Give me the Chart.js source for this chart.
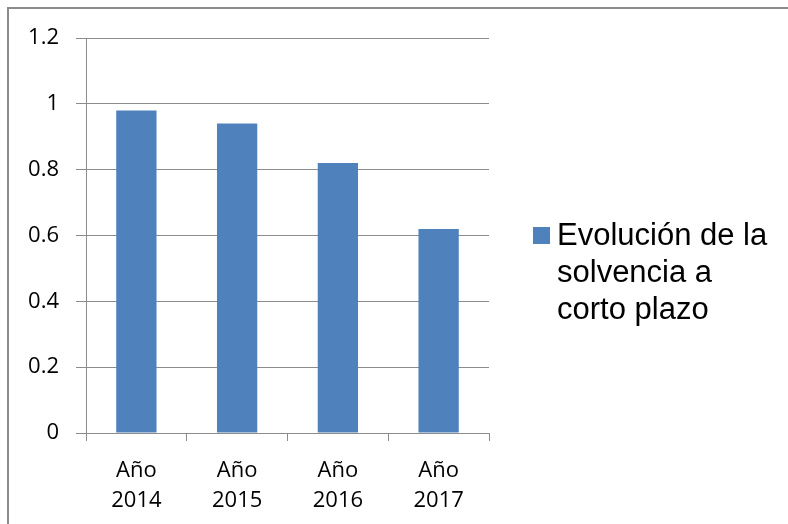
<!DOCTYPE html>
<html>
<head>
<meta charset="utf-8">
<script src="https://cdn.jsdelivr.net/npm/chart.js@4"></script>
<style>
    body { margin: 0; background: #fff; overflow: hidden; }
    #wrap { position: relative; width: 788px; height: 524px; }
    #frame { position: absolute; left: 7px; top: 7px; width: 900px; height: 700px; border: 2px solid #8c8c8c; }
    canvas { position: absolute; left: 0; top: 0; }
</style>
</head>
<body>
<div id="wrap">
    <div id="frame"></div>
    <canvas id="solvenciaChart" width="788" height="524"></canvas>
</div>
<script>
// Chart data
const years = [['Año', '2014'], ['Año', '2015'], ['Año', '2016'], ['Año', '2017']];
const solvencia = [0.98, 0.94, 0.82, 0.62];
const seriesLabel = 'Evolución de la solvencia a corto plazo';
const barColor = '#4F81BD';

// Draws the legend on the right, wrapping the label like the original
const sideLegend = {
    id: 'sideLegend',
    afterDraw(chart) {
        const ctx = chart.ctx;
        const ds = chart.data.datasets[0];
        ctx.save();
        ctx.font = '31px "Liberation Sans", Arial, sans-serif';
        ctx.fillStyle = ds.backgroundColor;
        ctx.fillRect(533, 227, 17, 17);

        // wrap words
        const words = ds.label.split(' ');
        const lines = [];
        let line = '';
        words.forEach(w => {
            const test = line ? line + ' ' + w : w;
            if (ctx.measureText(test).width > 222 && line) {
                lines.push(line);
                line = w;
            } else {
                line = test;
            }
        });
        if (line) lines.push(line);

        ctx.fillStyle = '#000';
        ctx.textBaseline = 'alphabetic';
        lines.forEach((l, i) => ctx.fillText(l, 557, 245 + i * 37));
        ctx.restore();
    }
};

const ctx = document.getElementById('solvenciaChart').getContext('2d');
new Chart(ctx, {
    type: 'bar',
    data: {
        labels: years,
        datasets: [{
            label: seriesLabel,
            data: solvencia,
            backgroundColor: barColor,
            categoryPercentage: 1,
            barPercentage: 0.4
        }]
    },
    options: {
        responsive: false,
        animation: false,
        layout: { padding: { left: 0, top: 38, right: 299, bottom: 0 } },
        plugins: {
            legend: { display: false },
            tooltip: { enabled: false }
        },
        scales: {
            x: {
                afterFit: (scale) => { scale.height = 91; },
                grid: {
                    offset: true,
                    drawOnChartArea: false,
                    drawTicks: true,
                    tickLength: 8,
                    color: '#8c8c8c'
                },
                border: { color: '#8c8c8c' },
                ticks: {
                    color: '#000',
                    padding: 14,
                    maxRotation: 0,
                    font: { family: '"Open Sans", sans-serif', size: 22, lineHeight: 1.4 }
                }
            },
            y: {
                min: 0,
                max: 1.2,
                afterFit: (scale) => { scale.width = 86; },
                grid: {
                    color: '#8c8c8c',
                    tickLength: 10
                },
                border: { color: '#8c8c8c' },
                ticks: {
                    stepSize: 0.2,
                    color: '#000',
                    padding: 17,
                    font: { family: '"Open Sans", sans-serif', size: 22 },
                    callback: (value) => String(Number(value.toFixed(1)))
                }
            }
        }
    },
    plugins: [sideLegend]
});
</script>
</body>
</html>
